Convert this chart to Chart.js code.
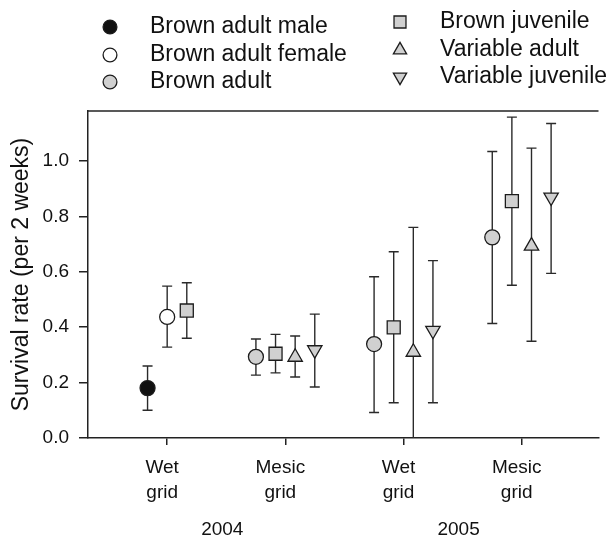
<!DOCTYPE html>
<html>
<head>
<meta charset="utf-8">
<script src="https://cdn.jsdelivr.net/npm/chart.js@4.4.1/dist/chart.umd.min.js"></script>
<style>
  html, body { margin: 0; padding: 0; background: #fff; }
  canvas { display: block; }
</style>
</head>
<body>
<canvas id="myChart" width="609" height="537"></canvas>
<script>
// groups along the x axis and their tick labels
const groups = ['Wet grid 2004', 'Mesic grid 2004', 'Wet grid 2005', 'Mesic grid 2005'];
const groupLabels = [['Wet', 'grid'], ['Mesic', 'grid'], ['Wet', 'grid'], ['Mesic', 'grid']];
const years = ['2004', '2005'];
const yTicks = [0, 0.2, 0.4, 0.6, 0.8, 1.0];

const seriesNames = ['Brown adult male', 'Brown adult female', 'Brown adult',
  'Brown juvenile', 'Variable adult', 'Variable juvenile'];

// survival estimate with lower / upper bound, one entry per group
const brownAdultMale = [0.18, null, null, null];
const brownAdultMaleLow = [0.10, null, null, null];
const brownAdultMaleHigh = [0.26, null, null, null];

const brownAdultFemale = [0.437, null, null, null];
const brownAdultFemaleLow = [0.328, null, null, null];
const brownAdultFemaleHigh = [0.548, null, null, null];

const brownAdult = [null, 0.293, 0.339, 0.724];
const brownAdultLow = [null, 0.227, 0.092, 0.413];
const brownAdultHigh = [null, 0.357, 0.582, 1.034];

const brownJuvenile = [0.46, 0.304, 0.399, 0.855];
const brownJuvenileLow = [0.36, 0.235, 0.127, 0.551];
const brownJuvenileHigh = [0.56, 0.374, 0.672, 1.158];

const variableAdult = [null, 0.292, 0.31, 0.693];
const variableAdultLow = [null, 0.22, -0.13, 0.349];
const variableAdultHigh = [null, 0.368, 0.76, 1.046];

const variableJuvenile = [null, 0.318, 0.388, 0.869];
const variableJuvenileLow = [null, 0.184, 0.127, 0.594];
const variableJuvenileHigh = [null, 0.447, 0.64, 1.135];

const means = [brownAdultMale, brownAdultFemale, brownAdult, brownJuvenile, variableAdult, variableJuvenile];
const lows = [brownAdultMaleLow, brownAdultFemaleLow, brownAdultLow, brownJuvenileLow, variableAdultLow, variableJuvenileLow];
const highs = [brownAdultMaleHigh, brownAdultFemaleHigh, brownAdultHigh, brownJuvenileHigh, variableAdultHigh, variableJuvenileHigh];

const GRAY = '#d0d0d0';
const EDGE = '#1c1c1c';
const markers = [
  { pointStyle: 'circle', radius: 7.5, rotation: 0, fill: '#111111' },
  { pointStyle: 'circle', radius: 7.5, rotation: 0, fill: '#ffffff' },
  { pointStyle: 'circle', radius: 7.5, rotation: 0, fill: GRAY },
  { pointStyle: 'rect', radius: 9.2, rotation: 0, fill: GRAY },
  { pointStyle: 'triangle', radius: 8.3, rotation: 0, fill: GRAY },
  { pointStyle: 'triangle', radius: 8.3, rotation: 180, fill: GRAY }
];

// side-by-side spacing of the series inside one group (in group units)
const DODGE = 0.166;
function xFor(s, g) {
  const present = means.map((m, i) => (m[g] != null ? i : -1)).filter(i => i >= 0);
  const k = present.indexOf(s);
  return g + 1 + (k - (present.length - 1) / 2) * DODGE;
}

const datasets = seriesNames.map((name, s) => ({
  label: name,
  data: means[s].map((v, g) => (v == null ? null : { x: xFor(s, g), y: v, lo: lows[s][g], hi: highs[s][g] })).filter(Boolean),
  pointStyle: markers[s].pointStyle,
  pointRadius: markers[s].radius,
  pointRotation: markers[s].rotation,
  backgroundColor: markers[s].fill,
  borderColor: EDGE,
  borderWidth: 1.3,
  showLine: false
}));

const errorBars = {
  id: 'errorBars',
  beforeDatasetsDraw(chart) {
    const { ctx, chartArea, scales: { x, y } } = chart;
    ctx.save();
    ctx.beginPath();
    ctx.rect(chartArea.left, chartArea.top, chartArea.width, chartArea.height);
    ctx.clip();
    ctx.strokeStyle = '#2a2a2a';
    ctx.lineWidth = 1.4;
    chart.data.datasets.forEach(ds => ds.data.forEach(p => {
      const px = x.getPixelForValue(p.x);
      const top = y.getPixelForValue(p.hi);
      const bot = y.getPixelForValue(p.lo);
      ctx.beginPath();
      ctx.moveTo(px, top); ctx.lineTo(px, bot);
      ctx.moveTo(px - 5, top); ctx.lineTo(px + 5, top);
      ctx.moveTo(px - 5, bot); ctx.lineTo(px + 5, bot);
      ctx.stroke();
    }));
    ctx.restore();
  }
};

const frameAndText = {
  id: 'frameAndText',
  afterDraw(chart) {
    const { ctx, chartArea, scales: { x } } = chart;
    ctx.save();
    // top border of the plot box
    ctx.strokeStyle = '#222';
    ctx.lineWidth = 1.5;
    ctx.beginPath();
    ctx.moveTo(chartArea.left, chartArea.top);
    ctx.lineTo(chartArea.right, chartArea.top);
    ctx.stroke();

    // year labels under each pair of groups
    ctx.fillStyle = '#111';
    ctx.font = '19px "Liberation Sans", Arial, sans-serif';
    ctx.textAlign = 'center';
    ctx.textBaseline = 'alphabetic';
    years.forEach((yr, i) => {
      const mid = (x.getPixelForValue(2 * i + 1) + x.getPixelForValue(2 * i + 2)) / 2;
      ctx.fillText(yr, mid - 4, 535);
    });

    // legend, two columns of three
    ctx.font = '23px "Liberation Sans", Arial, sans-serif';
    ctx.textAlign = 'left';
    ctx.textBaseline = 'middle';
    const cols = [{ x: 110, rows: [27, 55, 82] }, { x: 400, rows: [22, 50, 77] }];
    seriesNames.forEach((name, s) => {
      const col = cols[Math.floor(s / 3)];
      const yy = col.rows[s % 3];
      ctx.fillStyle = markers[s].fill;
      ctx.strokeStyle = EDGE;
      ctx.lineWidth = 1.3;
      Chart.helpers.drawPoint(ctx, {
        pointStyle: markers[s].pointStyle,
        radius: markers[s].radius * 0.92,
        rotation: markers[s].rotation,
        borderWidth: 1.3
      }, col.x, yy);
      ctx.fillStyle = '#111';
      ctx.fillText(name, col.x + 40, yy);
    });
    ctx.restore();
  }
};

Chart.defaults.font.family = '"Liberation Sans", Arial, sans-serif';
Chart.defaults.color = '#111';

const ctx = document.getElementById('myChart').getContext('2d');
const myChart = new Chart(ctx, {
  type: 'scatter',
  data: { datasets: datasets },
  plugins: [errorBars, frameAndText],
  options: {
    responsive: false,
    animation: false,
    events: [],
    layout: { padding: { top: 111, left: 0, right: 0, bottom: 0 } },
    plugins: { legend: { display: false }, tooltip: { enabled: false } },
    scales: {
      x: {
        type: 'linear',
        min: 0.33,
        max: 4.65,
        afterBuildTicks: scale => { scale.ticks = groups.map((_, i) => ({ value: i + 1 })); },
        afterFit: scale => { scale.height = 99; },
        ticks: {
          autoSkip: false,
          maxRotation: 0,
          padding: 10,
          labelOffset: -5,
          font: { size: 19, lineHeight: '25px' },
          callback: (v, i) => groupLabels[i]
        },
        grid: { drawOnChartArea: false, tickLength: 7, color: '#222', lineWidth: 1.5 },
        border: { color: '#222', width: 1.5 }
      },
      y: {
        min: 0,
        max: 1.18,
        afterBuildTicks: scale => { scale.ticks = yTicks.map(v => ({ value: v })); },
        afterFit: scale => { scale.width = 88; },
        ticks: {
          padding: 10,
          font: { size: 19 },
          callback: v => v.toFixed(1)
        },
        grid: { drawOnChartArea: false, tickLength: 9, color: '#222', lineWidth: 1.5 },
        border: { color: '#222', width: 1.5 },
        title: {
          display: true,
          text: 'Survival rate (per 2 weeks)',
          font: { size: 23 },
          padding: { top: 8, bottom: 0 }
        }
      }
    }
  }
});
</script>
</body>
</html>
